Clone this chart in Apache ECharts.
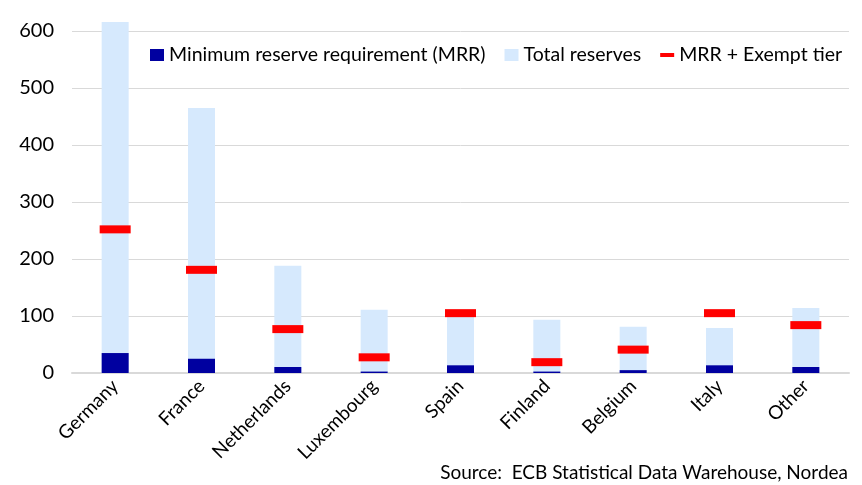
<!DOCTYPE html>
<html>
<head>
<meta charset="utf-8">
<script src="https://cdn.jsdelivr.net/npm/echarts@6/dist/echarts.min.js"></script>
<style>
  html, body { margin: 0; padding: 0; background: #fff; }
  #chart { width: 862px; height: 485px; }
</style>
</head>
<body>
<div id="chart"></div>
<script>
// Reserves by country, EUR bn
var countries = ['Germany', 'France', 'Netherlands', 'Luxembourg', 'Spain', 'Finland', 'Belgium', 'Italy', 'Other'];
var mrr = [35, 25, 10.5, 2.5, 13.5, 2.5, 5, 13.5, 10.5];
var totalReserves = [616, 465, 188, 111, 102, 93.5, 81, 79, 114];
var mrrExempt = [252, 181, 77, 27.5, 105, 19, 41, 105, 84];

var chartDom = document.getElementById('chart');
var myChart = echarts.init(chartDom);
var font = 'Lato';

var option = {
    animation: false,
    textStyle: { fontFamily: font },
    grid: { left: 72, right: 13, top: 31, bottom: 112 },
    legend: {
        left: 150,
        top: 45,
        right: 0,
        padding: 0,
        itemGap: 19,
        itemWidth: 14,
        itemHeight: 12,
        textStyle: { fontFamily: font, fontSize: 19.5, color: '#000' },
        data: [
            { name: 'Minimum reserve requirement (MRR)', icon: 'rect' },
            { name: 'Total reserves', icon: 'rect' },
            { name: 'MRR + Exempt tier', icon: 'path://M0,0h14v4h-14z' }
        ]
    },
    xAxis: {
        type: 'category',
        data: countries,
        axisLine: { lineStyle: { color: '#d9d9d9', width: 2 } },
        axisTick: { show: false },
        axisLabel: { rotate: 45, interval: 0, fontSize: 19, color: '#000', margin: 10 }
    },
    yAxis: {
        type: 'value',
        min: 0,
        max: 600,
        interval: 100,
        axisLine: { show: false },
        axisTick: { show: false },
        axisLabel: { fontSize: 20, color: '#000', margin: 18 },
        splitLine: { lineStyle: { color: '#d9d9d9', width: 1 } }
    },
    series: [
        {
            name: 'Minimum reserve requirement (MRR)',
            type: 'bar',
            data: mrr,
            barWidth: 27,
            barGap: '-100%',
            z: 3,
            clip: false,
            itemStyle: { color: '#0000A0' }
        },
        {
            name: 'Total reserves',
            type: 'bar',
            data: totalReserves,
            barWidth: 27,
            barGap: '-100%',
            z: 2,
            clip: false,
            itemStyle: { color: '#D6E9FD' }
        },
        {
            name: 'MRR + Exempt tier',
            type: 'scatter',
            data: mrrExempt,
            symbol: 'rect',
            symbolSize: [31, 8],
            z: 4,
            itemStyle: { color: '#FF0000', opacity: 1 }
        }
    ],
    graphic: [{
        type: 'text',
        right: 14,
        bottom: 3,
        style: {
            text: 'Source:  ECB Statistical Data Warehouse, Nordea',
            fontFamily: font,
            fontSize: 19,
            fill: '#000'
        }
    }]
};

myChart.setOption(option);
</script>
</body>
</html>
